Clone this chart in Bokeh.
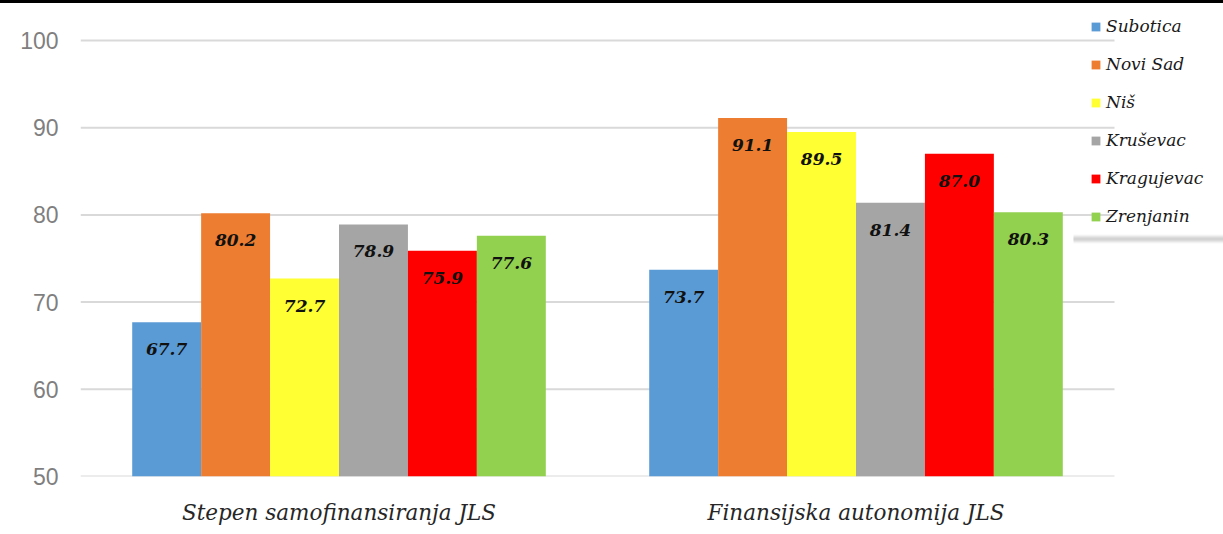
from bokeh.plotting import figure
from bokeh.models import (ColumnDataSource, Legend, LegendItem, LabelSet, FixedTicker,
                          Range1d, BoxAnnotation)
from bokeh.transform import dodge
from bokeh.core.properties import value
from bokeh.embed import file_html
from bokeh.resources import INLINE

categories = ["Stepen samofinansiranja JLS", "Finansijska autonomija JLS"]
cities = ["Subotica", "Novi Sad", "Niš", "Kruševac", "Kragujevac", "Zrenjanin"]
colors = ["#5B9BD5", "#ED7D31", "#FFFF33", "#A5A5A5", "#FF0000", "#92D050"]
subotica = [67.7, 73.7]
novi_sad = [80.2, 91.1]
nis = [72.7, 89.5]
krusevac = [78.9, 81.4]
kragujevac = [75.9, 87.0]
zrenjanin = [77.6, 80.3]
series = [subotica, novi_sad, nis, krusevac, kragujevac, zrenjanin]
y_ticks = [50, 60, 70, 80, 90, 100]

cat_pos = [i + 0.5 for i in range(len(categories))]
n_cat = len(categories)

W, H = 1223, 531
FL, FR, FB = 80, 1223, 473          # frame edges in canvas px
px_per_cat = (1114 - 80) / n_cat
px_per_unit = (FB - 37) / (y_ticks[-1] - y_ticks[0])

p = figure(x_range=Range1d(0, (FR - FL) / px_per_cat),
           y_range=Range1d(y_ticks[0], y_ticks[0] + FB / px_per_unit),
           width=W, height=H, output_backend="svg", toolbar_location=None,
           min_border_left=FL, min_border_right=W - FR, min_border_top=0,
           min_border_bottom=H - FB, background_fill_color="white",
           border_fill_color="white")
p.styles = {"border-top": "3px solid black"}
p.outline_line_color = None
p.frame_width = FR - FL
p.frame_height = FB

# horizontal gridlines across the category area only
p.segment(x0=0, x1=n_cat, y0=y_ticks, y1=y_ticks, line_color="#D9D9D9", line_width=2)

bw = 0.8 / 6
items = []
for i, (name, vals, col) in enumerate(zip(cities, series, colors)):
    src = ColumnDataSource(dict(x=cat_pos, val=vals, lab=["%.1f" % v for v in vals]))
    off = (i - 2.5) * bw
    r = p.vbar(x=dodge("x", off), top="val", bottom=y_ticks[0], width=bw,
               source=src, fill_color=col, line_color=None)
    items.append(LegendItem(label=name, renderers=[r]))
    lbl = LabelSet(x=dodge("x", off), y="val", text="lab", source=src,
                   text_align="center", text_baseline="alphabetic", y_offset=-33,
                   text_font=value("DejaVu Serif"), text_font_style="bold italic",
                   text_font_size="17px", text_color="#111111")
    p.add_layout(lbl)

p.yaxis.ticker = FixedTicker(ticks=y_ticks)
p.yaxis.axis_line_color = None
p.yaxis.major_tick_line_color = None
p.yaxis.minor_tick_line_color = None
p.yaxis.major_label_text_font = "Liberation Sans"
p.yaxis.major_label_text_font_size = "23px"
p.yaxis.major_label_text_color = "#7F7F7F"
p.yaxis.major_label_standoff = 16

p.xaxis.ticker = FixedTicker(ticks=cat_pos)
p.xaxis.major_label_overrides = {x: c for x, c in zip(cat_pos, categories)}
p.xaxis.axis_line_color = None
p.xaxis.major_tick_line_color = None
p.xaxis.minor_tick_line_color = None
p.xaxis.major_label_text_font = "DejaVu Serif"
p.xaxis.major_label_text_font_style = "italic"
p.xaxis.major_label_text_font_size = "21.5px"
p.xaxis.major_label_text_color = "#262626"
p.xaxis.major_label_standoff = 17

p.xgrid.grid_line_color = None
p.ygrid.grid_line_color = None

# soft drop shadow under the legend box (screen px, frame-relative, y up from frame bottom)
frame_bottom_page = FB + 3
for row, a in zip(range(234, 243), [0.05, 0.1, 0.18, 0.26, 0.3, 0.26, 0.18, 0.1, 0.05]):
    p.add_layout(BoxAnnotation(left=1073 - FL, right=1223 - FL,
                               top=frame_bottom_page - row, bottom=frame_bottom_page - row - 1,
                               left_units="screen", right_units="screen",
                               top_units="screen", bottom_units="screen",
                               fill_color="#555555", fill_alpha=a, line_color=None))

legend = Legend(items=items, location=(1010, 250), orientation="vertical",
                label_text_font="DejaVu Serif", label_text_font_style="italic",
                label_text_font_size="17px", label_text_color="#1A1A1A",
                glyph_width=11, glyph_height=11, label_height=20, spacing=18,
                padding=11, margin=0, label_standoff=5,
                border_line_color=None,
                background_fill_color="white", background_fill_alpha=0.0)
p.add_layout(legend, "center")

open("out.html", "w").write(file_html(p, INLINE))
